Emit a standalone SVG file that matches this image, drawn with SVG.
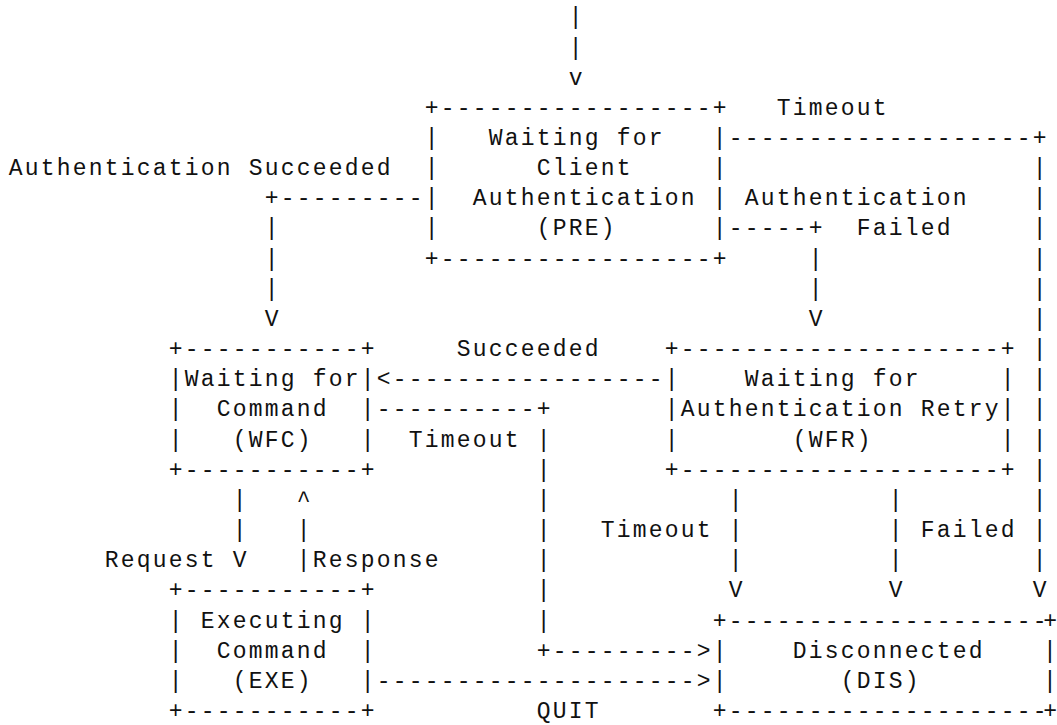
<svg xmlns="http://www.w3.org/2000/svg" width="1057" height="725" viewBox="0 0 1057 725" xml:space="preserve">
<style>
text { font-family: "Liberation Mono", monospace; font-size: 23px; letter-spacing: 2.2px; fill: #111; white-space: pre; }
text.edge { letter-spacing: 0; }
text.edge2 { letter-spacing: -3.4px; }
</style>
<rect width="1057" height="725" fill="#ffffff"/>
<g id="connectors">
  <!-- entry -->
  <text x="568.8" y="24.3">|</text>
  <text x="568.8" y="54.5">|</text>
  <text x="568.8" y="84.6">v</text>
  <!-- PRE timeout -> DIS -->
  <text x="776.8" y="114.8">Timeout</text>
  <text x="728.8" y="144.9">-------------------+</text>
  <text x="1032.8" y="175.1">|</text>
  <text x="1032.8" y="205.3">|</text>
  <text x="1032.8" y="235.4">|</text>
  <text x="1032.8" y="265.6">|</text>
  <text x="1032.8" y="295.7">|</text>
  <text x="1032.8" y="325.9">|</text>
  <text x="1032.8" y="356.1">|</text>
  <text x="1032.8" y="386.2">|</text>
  <text x="1032.8" y="416.4">|</text>
  <text x="1032.8" y="446.5">|</text>
  <text x="1032.8" y="476.7">|</text>
  <text x="1032.8" y="506.9">|</text>
  <text x="1032.8" y="537.0">|</text>
  <text x="1032.8" y="567.2">|</text>
  <text x="1032.8" y="597.3">V</text>
  <!-- Authentication Succeeded PRE -> WFC -->
  <text x="8.8" y="175.1">Authentication Succeeded</text>
  <text x="264.8" y="205.3">+---------</text>
  <text x="264.8" y="235.4">|</text>
  <text x="264.8" y="265.6">|</text>
  <text x="264.8" y="295.7">|</text>
  <text x="264.8" y="325.9">V</text>
  <!-- Authentication Failed PRE -> WFR -->
  <text x="744.8" y="205.3">Authentication</text>
  <text x="728.8" y="235.4">-----+</text>
  <text x="856.8" y="235.4">Failed</text>
  <text x="808.8" y="265.6">|</text>
  <text x="808.8" y="295.7">|</text>
  <text x="808.8" y="325.9">V</text>
  <!-- Succeeded WFR -> WFC -->
  <text x="456.8" y="356.1">Succeeded</text>
  <text x="376.8" y="386.2">&lt;-----------------</text>
  <!-- Timeout WFC -> DIS -->
  <text x="376.8" y="416.4">----------+</text>
  <text x="408.8" y="446.5">Timeout</text>
  <text x="536.8" y="446.5">|</text>
  <text x="536.8" y="476.7">|</text>
  <text x="536.8" y="506.9">|</text>
  <text x="536.8" y="537.0">|</text>
  <text x="536.8" y="567.2">|</text>
  <text x="536.8" y="597.3">|</text>
  <text x="536.8" y="627.5">|</text>
  <text x="536.8" y="657.7">+---------&gt;</text>
  <!-- Request WFC -> EXE -->
  <text x="232.8" y="506.9">|</text>
  <text x="232.8" y="537.0">|</text>
  <text x="104.8" y="567.2">Request V</text>
  <!-- Response EXE -> WFC -->
  <text x="296.8" y="506.9">^</text>
  <text x="296.8" y="537.0">|</text>
  <text x="296.8" y="567.2">|Response</text>
  <!-- WFR Timeout -> DIS -->
  <text x="728.8" y="506.9">|</text>
  <text x="600.8" y="537.0">Timeout |</text>
  <text x="728.8" y="567.2">|</text>
  <text x="728.8" y="597.3">V</text>
  <!-- WFR Failed -> DIS -->
  <text x="888.8" y="506.9">|</text>
  <text x="888.8" y="537.0">| Failed</text>
  <text x="888.8" y="567.2">|</text>
  <text x="888.8" y="597.3">V</text>
  <!-- QUIT EXE -> DIS -->
  <text x="376.8" y="687.8">--------------------&gt;</text>
  <text x="536.8" y="718.0">QUIT</text>
</g>
<g id="node-PRE">
  <text x="424.8" y="114.8">+-----------------+</text>
  <text x="424.8" y="144.9">|   Waiting for   |</text>
  <text x="424.8" y="175.1">|      Client     |</text>
  <text x="424.8" y="205.3">|  Authentication |</text>
  <text x="424.8" y="235.4">|      (PRE)      |</text>
  <text x="424.8" y="265.6">+-----------------+</text>
</g>
<g id="node-WFC">
  <text x="168.8" y="356.1">+-----------+</text>
  <text x="168.8" y="386.2">|Waiting for|</text>
  <text x="168.8" y="416.4">|  Command  |</text>
  <text x="168.8" y="446.5">|   (WFC)   |</text>
  <text x="168.8" y="476.7">+-----------+</text>
</g>
<g id="node-WFR">
  <text x="664.8" y="356.1">+--------------------+</text>
  <text x="664.8" y="386.2">|    Waiting for     |</text>
  <text x="664.8" y="416.4">|Authentication Retry|</text>
  <text x="664.8" y="446.5">|       (WFR)        |</text>
  <text x="664.8" y="476.7">+--------------------+</text>
</g>
<g id="node-EXE">
  <text x="168.8" y="597.3">+-----------+</text>
  <text x="168.8" y="627.5">| Executing |</text>
  <text x="168.8" y="657.7">|  Command  |</text>
  <text x="168.8" y="687.8">|   (EXE)   |</text>
  <text x="168.8" y="718.0">+-----------+</text>
</g>
<g id="node-DIS">
  <text x="712.8" y="627.5">+-------------------</text>
  <text class="edge2" x="1032.8" y="627.5">-+</text>
  <text x="712.8" y="657.7">|    Disconnected</text>
  <text class="edge" x="1043" y="657.7">|</text>
  <text x="712.8" y="687.8">|       (DIS)</text>
  <text class="edge" x="1043" y="687.8">|</text>
  <text x="712.8" y="718.0">+-------------------</text>
  <text class="edge2" x="1032.8" y="718.0">-+</text>
</g>
</svg>
